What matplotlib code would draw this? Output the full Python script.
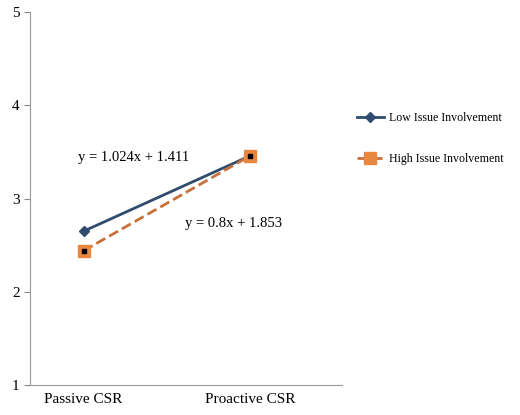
import matplotlib
matplotlib.use("Agg")
import matplotlib.pyplot as plt

categories = ["Passive CSR", "Proactive CSR"]
low = [2.65, 3.46]
high = [2.44, 3.46]
yticks = [1, 2, 3, 4, 5]

plt.rcParams['font.family'] = ['Liberation Serif', 'DejaVu Serif']
fig = plt.figure(figsize=(5.2, 4.15), dpi=100)
ax = fig.add_axes([0.058, 0.072, 0.60, 0.899])
x = range(len(categories))
ax.plot(x, low, color="#2F4B6E", lw=2, marker="D", ms=5, label="Low Issue Involvement")
ax.plot(x, high, color="#C8703A", lw=2, ls="--", marker="s", ms=8,
        mfc="#E8873F", mec="#E8873F", label="High Issue Involvement")
ax.plot(x, high, ls="none", marker="s", ms=3.5, color="black")
ax.set_xlim(-0.32, 1.55)
ax.set_ylim(1, 5)
ax.set_yticks(yticks)
ax.set_xticks(list(x))
ax.set_xticklabels(categories, fontsize=11)
ax.tick_params(axis="y", labelsize=11, length=4, color="#888888")
ax.tick_params(axis="x", length=0, pad=6)
for s in ["top", "right"]:
    ax.spines[s].set_visible(False)
for s in ["left", "bottom"]:
    ax.spines[s].set_color("#999999")
ax.text(0.3, 3.4, "y = 1.024x + 1.411", ha="center", fontsize=10.5)
ax.text(0.9, 2.7, "y = 0.8x + 1.853", ha="center", fontsize=10.5)
fig.legend(loc="upper left", bbox_to_anchor=(0.665, 0.755), frameon=False,
           labelspacing=2.4, handlelength=2.3, handletextpad=0.4, fontsize=8.6)
fig.savefig("out.png", dpi=100)
